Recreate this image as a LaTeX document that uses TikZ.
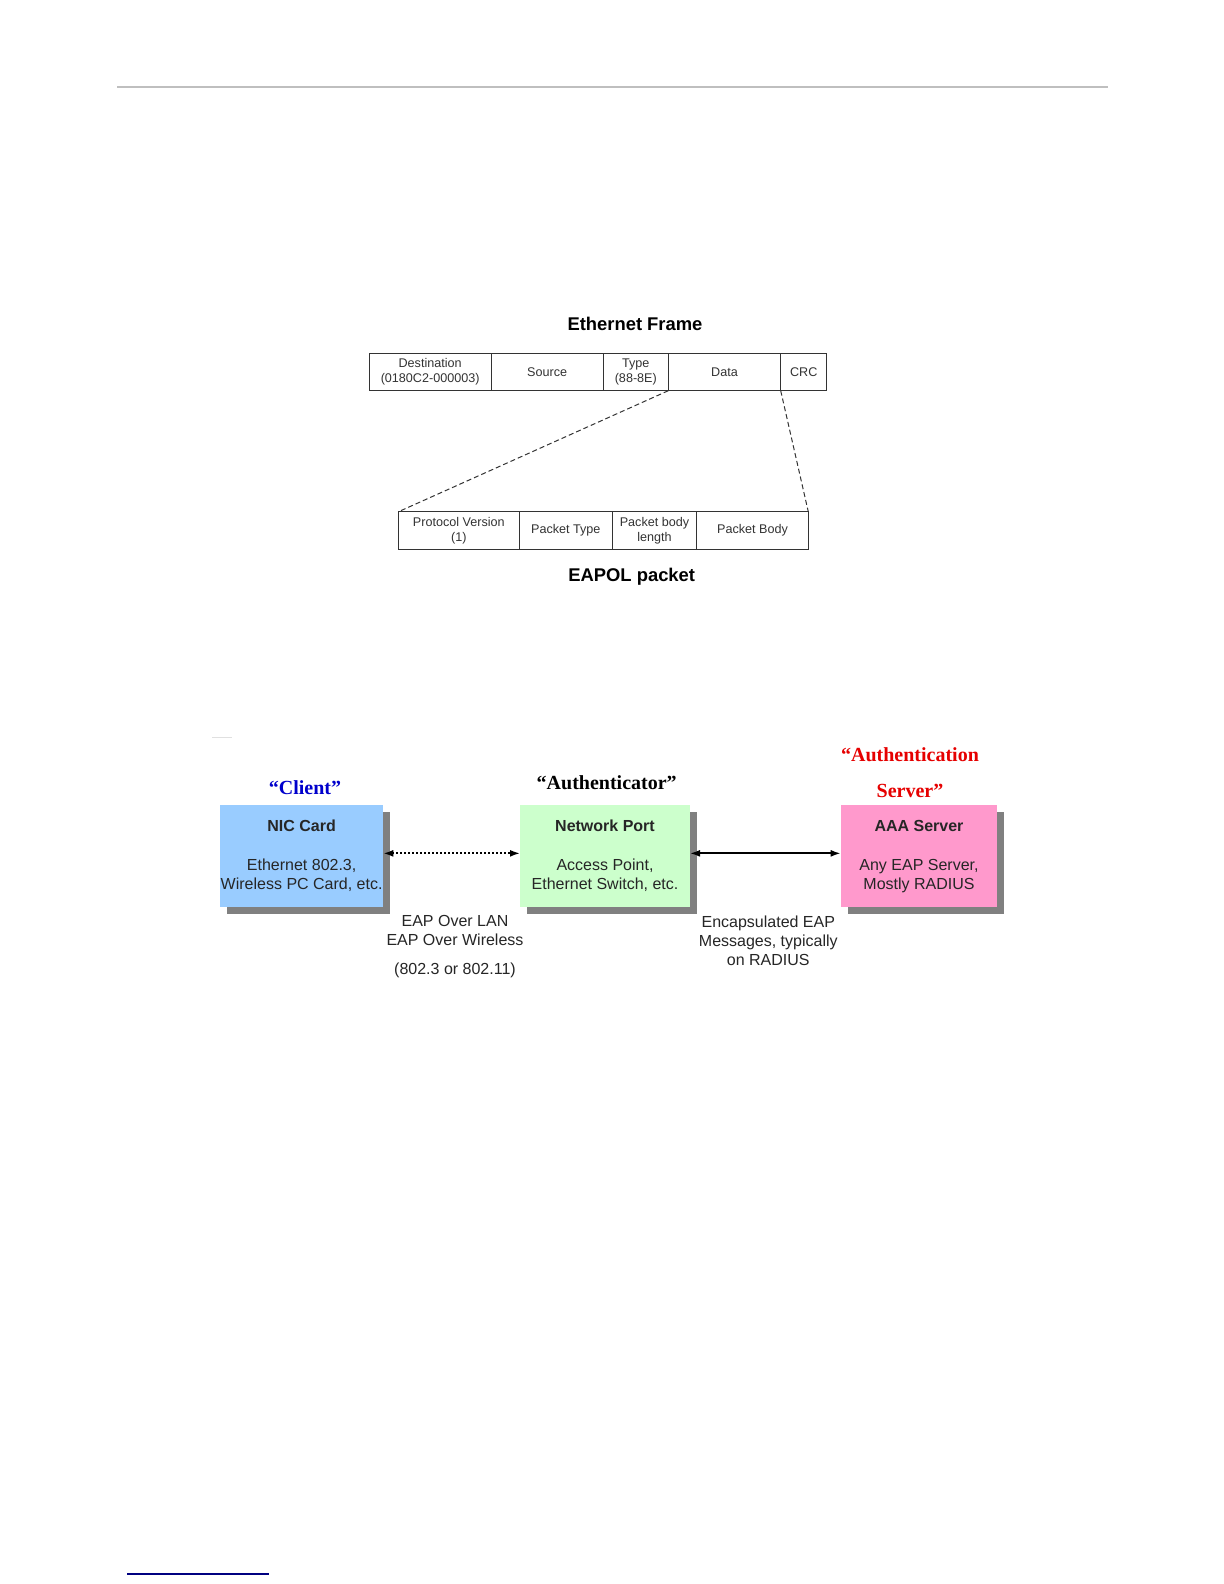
\documentclass[tikz,border=0pt]{standalone}
\usepackage{fontspec}
\setmainfont{Liberation Sans}
\newfontfamily\rolefont{Liberation Serif}
\usetikzlibrary{arrows.meta,shadows,positioning}

\definecolor{nicblue}{RGB}{153,204,255}
\definecolor{portgreen}{RGB}{204,255,204}
\definecolor{aaapink}{RGB}{255,153,204}
\definecolor{clientblue}{RGB}{0,0,204}
\definecolor{serverred}{RGB}{230,0,0}
\definecolor{linkblue}{RGB}{0,0,128}

\begin{document}
\begin{tikzpicture}[x=0.5pt, y=-0.5pt, >={Latex[length=5pt,width=3.5pt]},
  field/.style={draw=black!80, line width=0.5pt, minimum height=18.7pt, inner sep=0pt, outer sep=0pt, align=center, font=\fontsize{6.3}{7.6}\selectfont, text=black!80},
  frametitle/.style={anchor=base, font=\fontsize{9.2}{11}\selectfont\bfseries},
  framelink/.style={draw=black!80, line width=0.5pt, dash pattern=on 2.5pt off 1.5pt},
  box/.style={minimum height=51.15pt, inner sep=0pt, outer sep=0pt, align=center, font=\fontsize{8}{9.5}\selectfont, text=black!85, drop shadow={shadow xshift=3.5pt, shadow yshift=-3.5pt, fill=black!50, opacity=1}},
  role/.style={font=\rolefont\fontsize{10}{18}\selectfont\bfseries, align=center},
  note/.style={font=\fontsize{8}{9.5}\selectfont, align=center, text=black!85}]

  \useasboundingbox (0,0) rectangle (1224,1584);
  \fill[white] (0,0) rectangle (1224,1584);

  % Page rules
  \draw[black!25, line width=0.6pt] (117,87) -- (1108,87);
  \draw[linkblue, line width=0.8pt] (127,1574) -- (269,1574);
  \draw[black!12, line width=0.5pt] (212,737) -- (232,737);

  % Ethernet frame
  \node[frametitle] (ethtitle) at (635,330.6) {Ethernet Frame};
  \node[field, minimum width=60.85pt, anchor=west] (dest) at (369.3,372) {Destination\\(0180C2-000003)};
  \node[field, minimum width=56.15pt, right=0pt of dest] (src) {Source};
  \node[field, minimum width=32.5pt, right=0pt of src] (type) {Type\\(88-8E)};
  \node[field, minimum width=56.2pt, right=0pt of type] (data) {Data};
  \node[field, minimum width=23pt, right=0pt of data] (crc) {CRC};

  % EAPOL packet
  \node[field, minimum width=60.5pt, anchor=west] (pv) at (398.3,530.5) {Protocol Version\\(1)};
  \node[field, minimum width=46.5pt, right=0pt of pv] (ptype) {Packet Type};
  \node[field, minimum width=42.2pt, right=0pt of ptype] (plen) {Packet body\\length};
  \node[field, minimum width=55.8pt, right=0pt of plen] (pbody) {Packet Body};
  \node[frametitle] (eapoltitle) at (631.7,581.6) {EAPOL packet};

  % Zoom lines
  \draw[framelink] (data.south west) -- (pv.north west);
  \draw[framelink] (crc.south west) -- (pbody.north east);

  % Roles
  \node[role, text=clientblue] (client) at (305,788) {“Client”};
  \node[role] (authr) at (606.7,782.3) {“Authenticator”};
  \node[role, text=serverred] (auths) at (910,773) {“Authentication\\Server”};

  % Entities
  \node[box, fill=nicblue, minimum width=81.65pt] (nic) at (301.65,856.15)
    {\textbf{NIC Card}\\[10pt]Ethernet 802.3,\\Wireless PC Card, etc.};
  \node[box, fill=portgreen, minimum width=85pt] (port) at (605,856.15)
    {\textbf{Network Port}\\[10pt]Access Point,\\Ethernet Switch, etc.};
  \node[box, fill=aaapink, minimum width=78.3pt] (aaa) at (919,856.15)
    {\textbf{AAA Server}\\[10pt]Any EAP Server,\\Mostly RADIUS};

  % Links
  \draw[<->, line width=0.9pt, dash pattern=on 1pt off 1pt] ([yshift=1.4pt]nic.east) -- ([yshift=1.4pt]port.west);
  \draw[<->, line width=0.9pt] ([yshift=1.4pt]port.east) -- ([yshift=1.4pt]aaa.west);
  \node[note] (eapol) at (455,947) {EAP Over LAN\\EAP Over Wireless\\[5pt](802.3 or 802.11)};
  \node[note] (radius) at (768.3,940.8) {Encapsulated EAP\\Messages, typically\\on RADIUS};
\end{tikzpicture}
\end{document}
